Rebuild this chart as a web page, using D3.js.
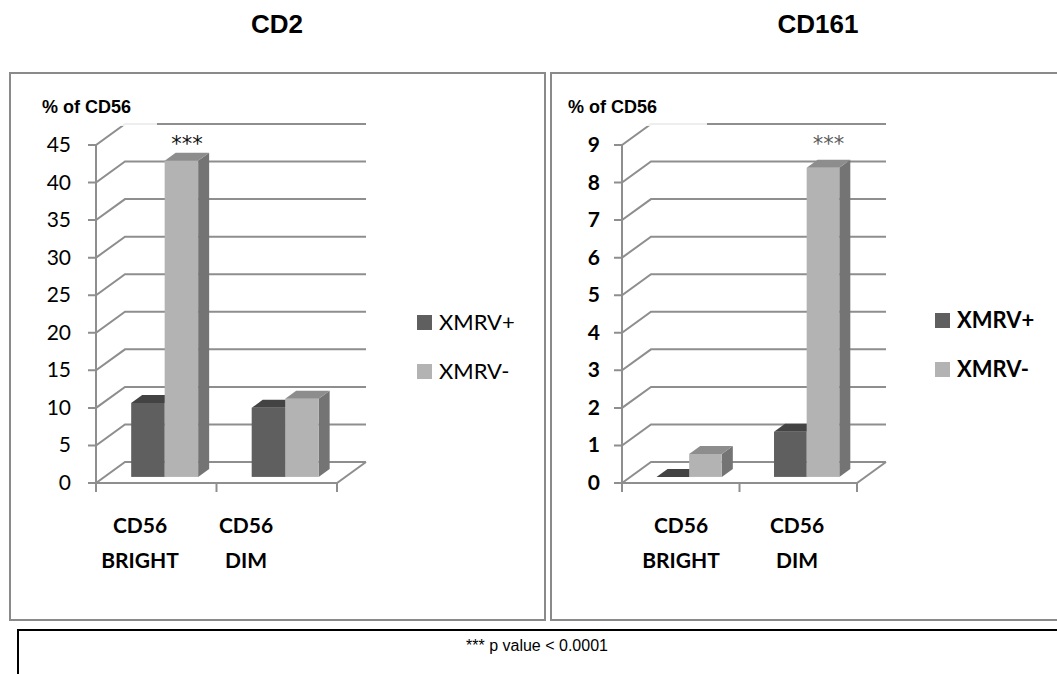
<!DOCTYPE html>
<html>
<head>
<meta charset="utf-8">
<script src="https://cdn.jsdelivr.net/npm/d3@7"></script>
<style>
  body { margin: 0; background: #fff; }
  svg { display: block; }
</style>
</head>
<body>
<svg id="chart" width="1057" height="674"></svg>
<script>
// data
const categories = ["CD56 BRIGHT", "CD56 DIM"];
const seriesNames = ["XMRV+", "XMRV-"];
const cd2Pos = [9.85, 9.2];
const cd2Neg = [42.1, 10.4];
const cd161Pos = [0, 1.2];
const cd161Neg = [0.61, 8.23];
const cd2Ticks = [0, 5, 10, 15, 20, 25, 30, 35, 40, 45];
const cd161Ticks = [0, 1, 2, 3, 4, 5, 6, 7, 8, 9];

const svg = d3.select("#chart");

// 3d depth of the plot
const DX = 29, DY = -21;
const barF0 = 0.29, barFd = 0.38;

const colors = {
  "XMRV+": { front: "#5f5f5f", top: "#434343", side: "#3a3a3a" },
  "XMRV-": { front: "#b3b3b3", top: "#8d8d8d", side: "#747474" }
};
const gridColor = "#8e8e8e";
const calibri = "Lato, 'Open Sans', sans-serif";

function drawPanel(o) {
  const g = svg.append("g");

  // panel border
  g.append("rect")
    .attr("x", o.boxX).attr("y", 73)
    .attr("width", 535).attr("height", 547)
    .attr("fill", "none").attr("stroke", "#8a8a8a").attr("stroke-width", 2);

  // title
  g.append("text")
    .attr("x", o.boxX + 267).attr("y", 33)
    .attr("text-anchor", "middle")
    .style("font", "bold 26px Arial, 'Liberation Sans', sans-serif")
    .text(o.title);

  const y = d3.scaleLinear().domain([0, o.max]).range([483, 145]);
  const x = d3.scaleBand().domain(categories).range([o.x0, o.x1]);
  const xs = d3.scaleBand().domain(seriesNames).range([0, x.bandwidth()]).paddingOuter(0.8);

  // back wall gridlines + diagonals
  const grid = g.append("g").attr("stroke", gridColor).attr("stroke-width", 2).attr("fill", "none");
  o.ticks.forEach(t => {
    grid.append("path")
      .attr("d", `M${o.x0 - 8},${y(t)}H${o.x0}L${o.x0 + DX},${y(t) + DY}H${o.x1 + DX}`);
  });
  // front axis
  grid.append("line")
    .attr("x1", o.x0).attr("x2", o.x0)
    .attr("y1", y(o.max)).attr("y2", y(0));
  // floor
  grid.append("path")
    .attr("d", `M${o.x0},${y(0)}H${o.x1}L${o.x1 + DX},${y(0) + DY}`);
  // category ticks
  [o.x0, ...categories.map(c => x(c) + x.bandwidth())].forEach(px => {
    grid.append("line")
      .attr("x1", px).attr("x2", px)
      .attr("y1", y(0)).attr("y2", y(0) + 9);
  });

  // label background hides part of the top gridline
  g.append("rect")
    .attr("x", o.x0 - 70).attr("y", 90)
    .attr("width", o.labelBoxW).attr("height", 36)
    .attr("fill", "#fff").attr("opacity", 0.85);
  g.append("text")
    .attr("x", o.x0 - 54).attr("y", 113)
    .style("font", "bold 18px Arial, 'Liberation Sans', sans-serif")
    .text("% of CD56");

  // tick labels
  g.append("g").selectAll("text")
    .data(o.ticks)
    .join("text")
    .attr("x", o.x0 - o.labelGap).attr("y", d => y(d) + 7)
    .attr("text-anchor", "end")
    .style("font-family", calibri)
    .style("font-size", "21px")
    .style("font-weight", o.bold ? "bold" : "normal")
    .text(d => d);

  // bars
  const w = xs.bandwidth();
  const fdx = barF0 * DX, fdy = barF0 * DY;
  const ddx = barFd * DX, ddy = barFd * DY;
  const bars = [];
  categories.forEach((c, ci) => {
    seriesNames.forEach((s, si) => {
      bars.push({ c, s, v: o.values[si][ci] });
    });
  });
  const bg = g.append("g");
  bars.forEach(b => {
    const bx = x(b.c) + xs(b.s) + fdx;
    const by0 = y(0) + fdy;
    const by1 = y(b.v) + fdy;
    const col = colors[b.s];
    // side
    bg.append("path")
      .attr("d", `M${bx + w},${by0}L${bx + w + ddx},${by0 + ddy}L${bx + w + ddx},${by1 + ddy}L${bx + w},${by1}Z`)
      .attr("fill", col.side);
    // front
    bg.append("rect")
      .attr("x", bx).attr("y", by1)
      .attr("width", w).attr("height", Math.max(0, by0 - by1))
      .attr("fill", col.front);
    // top
    bg.append("path")
      .attr("d", `M${bx},${by1}L${bx + ddx},${by1 + ddy}L${bx + w + ddx},${by1 + ddy}L${bx + w},${by1}Z`)
      .attr("fill", col.top);
  });

  // significance stars above the XMRV- bar
  const sc = o.starCat;
  g.append("text")
    .attr("x", x(sc) + xs("XMRV-") + w / 2 + fdx + ddx / 2)
    .attr("y", 151)
    .attr("text-anchor", "middle")
    .style("font-family", "'DejaVu Sans', sans-serif")
    .style("font-size", "21px")
    .attr("fill", o.starColor)
    .text("***");

  // category labels
  const lx = d3.scaleBand().domain(categories).range(o.labelRange);
  const cl = g.append("g")
    .style("font-family", calibri)
    .style("font-size", "21px")
    .style("font-weight", "bold");
  categories.forEach(c => {
    const parts = c.split(" ");
    parts.forEach((p, i) => {
      cl.append("text")
        .attr("x", lx(c) + lx.bandwidth() / 2)
        .attr("y", 533 + i * 35)
        .attr("text-anchor", "middle")
        .text(p);
    });
  });

  // legend
  const lg = g.append("g")
    .style("font-family", calibri)
    .style("font-size", "22px")
    .style("font-weight", o.bold ? "bold" : "normal");
  seriesNames.forEach((s, i) => {
    lg.append("rect")
      .attr("x", o.legendX).attr("y", o.legendY + i * 49)
      .attr("width", 15).attr("height", 15)
      .attr("fill", colors[s].front);
    lg.append("text")
      .attr("x", o.legendX + 22).attr("y", o.legendY + 15 + i * 49)
      .text(s);
  });
}

drawPanel({
  title: "CD2", boxX: 10, x0: 96, x1: 337, max: 45, ticks: cd2Ticks,
  values: [cd2Pos, cd2Neg], labelGap: 25, bold: false,
  starCat: "CD56 BRIGHT", starColor: "#111", labelBoxW: 131,
  labelRange: [87, 299], legendX: 417, legendY: 315
});

drawPanel({
  title: "CD161", boxX: 551, x0: 622, x1: 857, max: 9, ticks: cd161Ticks,
  values: [cd161Pos, cd161Neg], labelGap: 22, bold: true,
  starCat: "CD56 DIM", starColor: "#5a5a5a", labelBoxW: 155,
  labelRange: [623, 855], legendX: 935, legendY: 313
});

// footnote box
svg.append("rect")
  .attr("x", 18).attr("y", 630)
  .attr("width", 1080).attr("height", 80)
  .attr("fill", "none").attr("stroke", "#000").attr("stroke-width", 2);
svg.append("text")
  .attr("x", 537).attr("y", 651)
  .attr("text-anchor", "middle")
  .style("font", "16px Arial, 'Liberation Sans', sans-serif")
  .text("*** p value < 0.0001");
</script>
</body>
</html>
